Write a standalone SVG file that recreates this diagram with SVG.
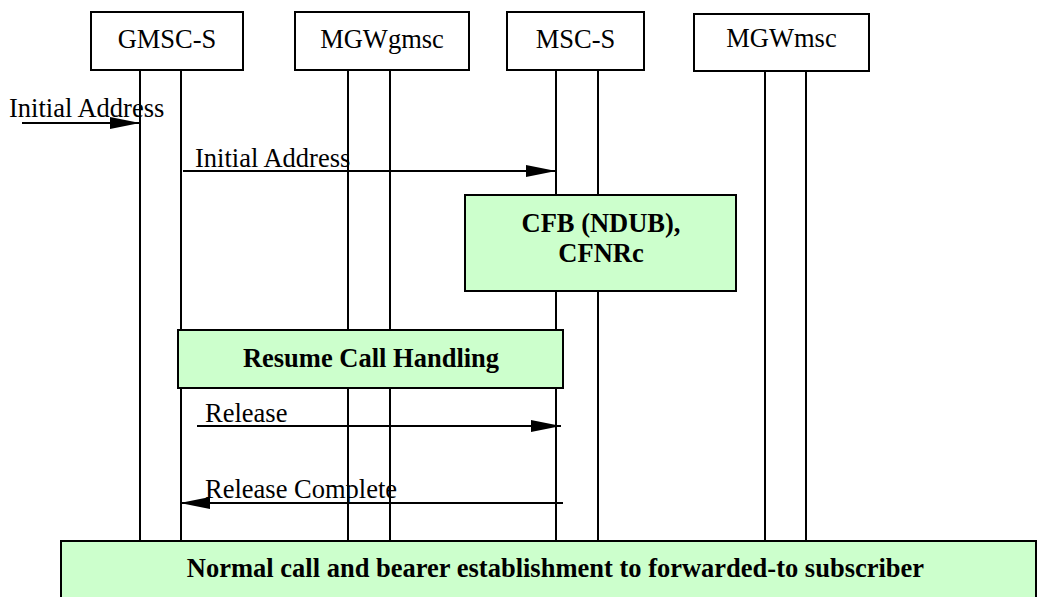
<svg xmlns="http://www.w3.org/2000/svg" width="1040" height="597" viewBox="0 0 1040 597">
<defs>
<style>
.ent{fill:#fff;stroke:#000;stroke-width:2}
.act{fill:#ccffcc;stroke:#000;stroke-width:2}
.life{stroke:#000;stroke-width:2;fill:none}
.msg{stroke:#000;stroke-width:2;fill:none}
.t{font-family:"Liberation Serif","Times New Roman",serif;font-size:26.5px;fill:#000}
.b{font-family:"Liberation Serif","Times New Roman",serif;font-size:26.5px;font-weight:bold;fill:#000}
</style>
<marker id="ah" viewBox="0 0 30 12" refX="30" refY="6" markerWidth="30" markerHeight="12" markerUnits="userSpaceOnUse" orient="auto">
<path d="M0,0 L30,6 L0,12 Z" fill="#000"/>
</marker>
</defs>
<rect width="1040" height="597" fill="#fff"/>
<g id="lifelines">
<line class="life" x1="140" y1="70" x2="140" y2="541"/>
<line class="life" x1="181" y1="70" x2="181" y2="541"/>
<line class="life" x1="348" y1="70" x2="348" y2="541"/>
<line class="life" x1="390" y1="70" x2="390" y2="541"/>
<line class="life" x1="556" y1="70" x2="556" y2="541"/>
<line class="life" x1="598" y1="70" x2="598" y2="541"/>
<line class="life" x1="765" y1="71" x2="765" y2="541"/>
<line class="life" x1="806" y1="71" x2="806" y2="541"/>
</g>
<g id="GMSC-S"><rect class="ent" x="91" y="12" width="152" height="58"/><text class="t" x="167" y="48" text-anchor="middle">GMSC-S</text></g>
<g id="MGWgmsc"><rect class="ent" x="295" y="12" width="174" height="58"/><text class="t" x="382" y="48" text-anchor="middle">MGWgmsc</text></g>
<g id="MSC-S"><rect class="ent" x="507" y="12" width="137" height="58"/><text class="t" x="575.5" y="48" text-anchor="middle">MSC-S</text></g>
<g id="MGWmsc"><rect class="ent" x="694" y="14" width="175" height="57"/><text class="t" x="781.5" y="47" text-anchor="middle">MGWmsc</text></g>
<g id="CFB"><rect class="act" x="465" y="195" width="271" height="96"/><text class="b" x="601" y="232" text-anchor="middle">CFB (NDUB),</text><text class="b" x="601" y="262" text-anchor="middle">CFNRc</text></g>
<g id="Resume"><rect class="act" x="178" y="330" width="385" height="58"/><text class="b" x="371" y="367" text-anchor="middle">Resume Call Handling</text></g>
<g id="Normal"><rect class="act" x="61" y="541" width="975" height="70"/><text class="b" x="555.5" y="577" text-anchor="middle">Normal call and bearer establishment to forwarded-to subscriber</text></g>
<g id="connectors">
<line class="msg" x1="22" y1="123" x2="140" y2="123" marker-end="url(#ah)"/>
<text class="t" x="9" y="117">Initial Address</text>
<line class="msg" x1="183" y1="171" x2="556" y2="171" marker-end="url(#ah)"/>
<text class="t" x="195" y="167">Initial Address</text>
<line class="msg" x1="197" y1="426" x2="561" y2="426" marker-end="url(#ah)"/>
<text class="t" x="205" y="422">Release</text>
<line class="msg" x1="563" y1="503" x2="180" y2="503" marker-end="url(#ah)"/>
<text class="t" x="205" y="498">Release Complete</text>
</g>
</svg>
